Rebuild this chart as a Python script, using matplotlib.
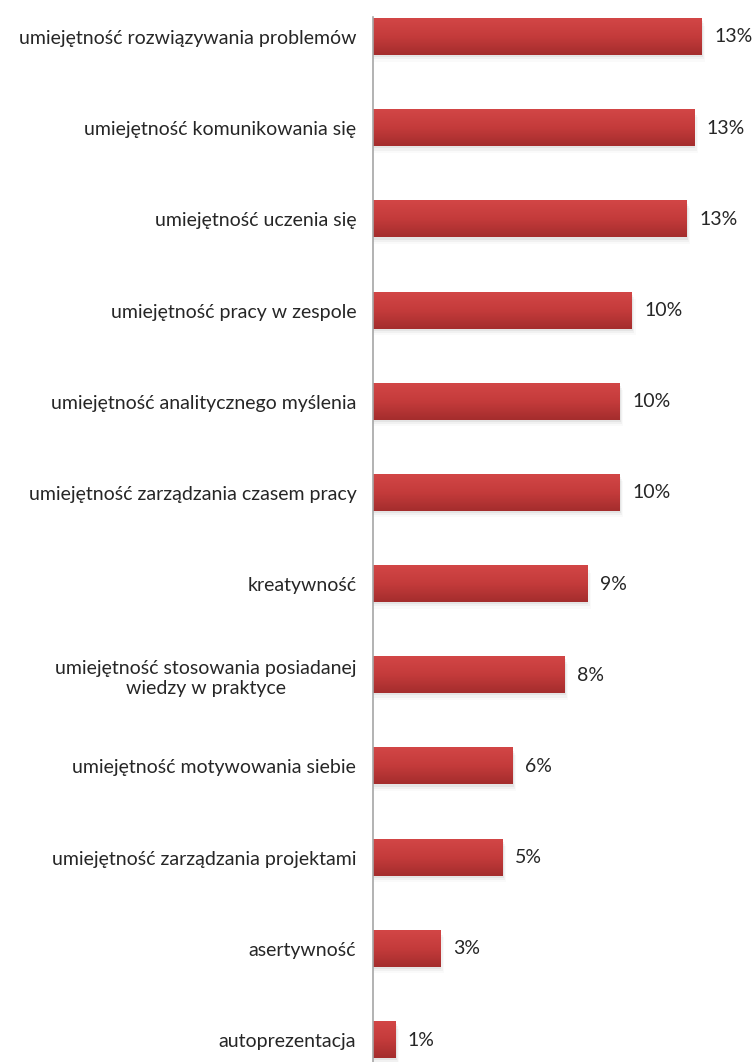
import numpy as np
import matplotlib
matplotlib.use("Agg")
import matplotlib.pyplot as plt
from matplotlib.colors import LinearSegmentedColormap

plt.rcParams['font.family'] = ['Lato', 'DejaVu Sans']

skills = [
    "umiejętność rozwiązywania problemów",
    "umiejętność komunikowania się",
    "umiejętność uczenia się",
    "umiejętność pracy w zespole",
    "umiejętność analitycznego myślenia",
    "umiejętność zarządzania czasem pracy",
    "kreatywność",
    "umiejętność stosowania posiadanej\nwiedzy w praktyce",
    "umiejętność motywowania siebie",
    "umiejętność zarządzania projektami",
    "asertywność",
    "autoprezentacja",
]
shares = [13.2, 12.9, 12.6, 10.4, 9.9, 9.9, 8.6, 7.7, 5.6, 5.2, 2.7, 0.9]

W, H = 753, 1062
fig = plt.figure(figsize=(W / 100, H / 100), dpi=100)
ax = fig.add_axes([373 / W, 0, 1 - 373 / W, (H - 17) / H])

bar_h = 0.395
px_per_unit = 24.9
xmax = (W - 373) / px_per_unit
ylim = (11 + 22 / 91.2, -20 / 91.2)

red = LinearSegmentedColormap.from_list("red3d", ["#d24646", "#c43b3b", "#a42d2d"])
grad = np.linspace(0, 1, 64).reshape(-1, 1)

for i, v in enumerate(shares):
    # soft drop shadow
    for k, a in enumerate([0.10, 0.07, 0.04]):
        d = (k + 1) * 0.012
        ax.add_patch(plt.Rectangle((0, i - bar_h / 2 + d * 2), v + d * 4, bar_h,
                                   color="#808080", alpha=a, lw=0, zorder=1))
    ax.imshow(grad, cmap=red, aspect="auto", zorder=2,
              extent=[0, v, i + bar_h / 2, i - bar_h / 2], interpolation="bilinear")
    ax.annotate(f"{round(v)}%", (v, i), xytext=(9, 0), textcoords="offset points",
                va="center", ha="left", fontsize=14, color="#262626")

ax.set_xlim(0, xmax)
ax.set_ylim(*ylim)

ax.set_yticks(range(len(skills)))
ax.set_yticklabels(skills, fontsize=14, color="#262626", multialignment="center")
ax.tick_params(axis="y", length=0, pad=12)
ax.set_xticks([])
for s in ["top", "right", "bottom"]:
    ax.spines[s].set_visible(False)
ax.spines["left"].set_color("#a6a6a6")
ax.spines["left"].set_linewidth(1.2)

fig.savefig("out.png", dpi=100)
